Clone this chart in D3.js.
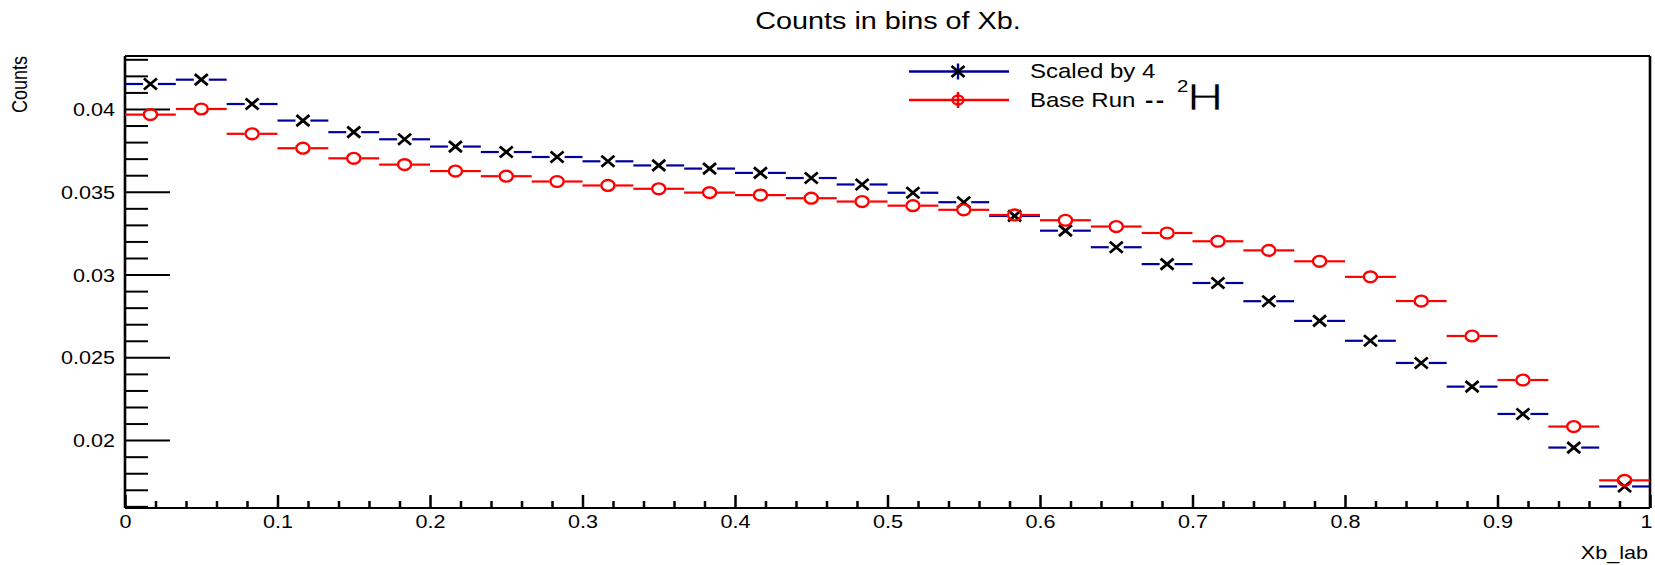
<!DOCTYPE html>
<html>
<head>
<meta charset="utf-8">
<script src="https://cdn.jsdelivr.net/npm/d3@7"></script>
<style>
html,body{margin:0;padding:0;background:#fff;}
svg{display:block;}
text{font-family:"Liberation Sans",Arial,Helvetica,sans-serif;fill:#000;}
</style>
</head>
<body>
<svg id="c" width="1655" height="565"></svg>
<script>
// ---- data ----
const nBins = 30;
const binEdges = d3.range(nBins + 1).map(i => i / nBins);
const scaledBy4 = [0.04151,0.04177,0.0403,0.0393,0.0386,0.03817,0.03773,0.0374,0.0371,0.03684,
  0.03659,0.0364,0.03614,0.03583,0.03544,0.03494,0.03437,0.03354,0.03265,0.03165,
  0.03063,0.02949,0.02839,0.0272,0.026,0.02466,0.02323,0.02158,0.01955,0.0172];
const baseRun = [0.03966,0.04,0.0385,0.03763,0.03702,0.03664,0.03625,0.03594,0.03562,0.03538,
  0.03518,0.03495,0.0348,0.03461,0.03441,0.03416,0.03391,0.0336,0.03328,0.0329,
  0.03251,0.03201,0.03146,0.0308,0.02986,0.0284,0.02629,0.02363,0.02082,0.01757];
const xMajorTicks = [0,0.1,0.2,0.3,0.4,0.5,0.6,0.7,0.8,0.9,1];
const xMajorLabels = ["0","0.1","0.2","0.3","0.4","0.5","0.6","0.7","0.8","0.9","1"];
const yMajorTicks = [0.02,0.025,0.03,0.035,0.04];
const yMajorLabels = ["0.02","0.025","0.03","0.035","0.04"];
const xDomain = [0, 1];
const yDomain = [0.0159, 0.0432];
const titleText = "Counts in bins of Xb.";
const xTitle = "Xb_lab";
const yTitle = "Counts";
const legendLabels = ["Scaled by 4", "Base Run"];

// ---- layout ----
const L = 125, R = 1650, T = 56, B = 508;
const SX = 1.2; // horizontal stretch of glyphs
const blue = "#00009c", red = "#ff0000";

const svg = d3.select("#c");
const x = d3.scaleLinear().domain(xDomain).range([L, R]);
const y = d3.scaleLinear().domain(yDomain).range([B, T]);

const yMinor = d3.range(16, 44).map(d => d / 1000).filter(v => v >= yDomain[0] && v <= yDomain[1] && !yMajorTicks.some(m => Math.abs(m - v) < 1e-9));
const xMinor = d3.range(0, 51).map(d => d / 50).filter(v => !xMajorTicks.some(m => Math.abs(m - v) < 1e-9));

const gy = svg.append("g").attr("transform", `translate(${L},0)`);
gy.call(d3.axisLeft(y).tickValues(yMinor).tickSizeInner(-23).tickSizeOuter(0).tickFormat(""));
gy.call(g => g.select(".domain").remove());
const gy2 = svg.append("g").attr("transform", `translate(${L},0)`);
gy2.call(d3.axisLeft(y).tickValues(yMajorTicks).tickSizeInner(-45).tickSizeOuter(0).tickPadding(10)
  .tickFormat((d, i) => yMajorLabels[i]));
gy2.call(g => g.select(".domain").remove());
svg.selectAll("g line").attr("stroke", "#000").attr("stroke-width", 2);
gy2.selectAll("text").attr("x", null).attr("dy", "0.36em")
  .attr("transform", `translate(-10,0) scale(${SX},1)`)
  .style("font-size", "18px").style("font-family", "Liberation Sans, Arial, sans-serif");

const gx = svg.append("g").attr("transform", `translate(0,${B})`);
gx.call(d3.axisBottom(x).tickValues(xMinor).tickSizeInner(-7).tickSizeOuter(0).tickFormat(""));
gx.call(g => g.select(".domain").remove());
const gx2 = svg.append("g").attr("transform", `translate(0,${B})`);
gx2.call(d3.axisBottom(x).tickValues(xMajorTicks).tickSizeInner(-13).tickSizeOuter(0).tickPadding(7)
  .tickFormat((d, i) => xMajorLabels[i]));
gx2.call(g => g.select(".domain").remove());
gx.selectAll("line").attr("stroke", "#000").attr("stroke-width", 2.5);
gx2.selectAll("line").attr("stroke", "#000").attr("stroke-width", 2.5);
gx2.selectAll("text").attr("y", null).attr("dy", null)
  .attr("transform", (d, i) => `translate(${i === xMajorTicks.length - 1 ? -4 : 0},20) scale(${SX},1)`)
  .style("font-size", "18px").style("font-family", "Liberation Sans, Arial, sans-serif");

// frame
const frame = svg.append("g");
frame.append("line").attr("x1", L).attr("x2", R).attr("y1", T).attr("y2", T).attr("stroke", "#000").attr("stroke-width", 2);
frame.append("line").attr("x1", L).attr("x2", R).attr("y1", B).attr("y2", B).attr("stroke", "#000").attr("stroke-width", 2);
frame.append("line").attr("x1", L).attr("x2", L).attr("y1", T).attr("y2", B).attr("stroke", "#000").attr("stroke-width", 2.6);
frame.append("line").attr("x1", R).attr("x2", R).attr("y1", T).attr("y2", B).attr("stroke", "#000").attr("stroke-width", 2.6);

// series drawing
const gap = 7.5;
function drawErr(g, vals, color) {
  vals.forEach((v, i) => {
    const xc = x((binEdges[i] + binEdges[i + 1]) / 2), yc = y(v);
    g.append("line").attr("x1", x(binEdges[i])).attr("x2", xc - gap).attr("y1", yc).attr("y2", yc)
      .attr("stroke", color).attr("stroke-width", 2.2);
    g.append("line").attr("x1", xc + gap).attr("x2", x(binEdges[i + 1])).attr("y1", yc).attr("y2", yc)
      .attr("stroke", color).attr("stroke-width", 2.2);
  });
}
function xMark(g, cx, cy, color) {
  const hw = 6.5, hh = 5.5;
  g.append("path").attr("d", `M${cx - hw},${cy - hh}L${cx + hw},${cy + hh}M${cx - hw},${cy + hh}L${cx + hw},${cy - hh}`)
    .attr("stroke", color).attr("stroke-width", 2.8).attr("fill", "none");
}
const gBlue = svg.append("g");
drawErr(gBlue, scaledBy4, blue);
scaledBy4.forEach((v, i) => xMark(gBlue, x((binEdges[i] + binEdges[i + 1]) / 2), y(v), "#000"));
const gRed = svg.append("g");
drawErr(gRed, baseRun, red);
baseRun.forEach((v, i) => {
  gRed.append("ellipse").attr("cx", x((binEdges[i] + binEdges[i + 1]) / 2)).attr("cy", y(v))
    .attr("rx", 6.6).attr("ry", 5.4).attr("fill", "none").attr("stroke", red).attr("stroke-width", 2.4);
});

// titles
svg.append("text").attr("transform", `translate(888,29) scale(${SX},1)`).attr("text-anchor", "middle")
  .style("font-size", "24px").text(titleText);
svg.append("text").attr("transform", `translate(1648,559) scale(${SX},1)`).attr("text-anchor", "end")
  .style("font-size", "18px").text(xTitle);
svg.append("text").attr("transform", `translate(27,56) scale(${SX},1) rotate(-90)`).attr("text-anchor", "end")
  .style("font-size", "18px").text(yTitle);

// legend
const lg = svg.append("g");
const ly = [71.5, 100];
const lx1 = 909, lx2 = 1009, lmx = 958;
lg.append("line").attr("x1", lx1).attr("x2", lx2).attr("y1", ly[0]).attr("y2", ly[0]).attr("stroke", blue).attr("stroke-width", 2.4);
lg.append("line").attr("x1", lmx).attr("x2", lmx).attr("y1", ly[0] - 8).attr("y2", ly[0] + 8).attr("stroke", blue).attr("stroke-width", 2.4);
xMark(lg, lmx, ly[0], "#000");
lg.append("line").attr("x1", lx1).attr("x2", lx2).attr("y1", ly[1]).attr("y2", ly[1]).attr("stroke", red).attr("stroke-width", 2.4);
lg.append("line").attr("x1", lmx).attr("x2", lmx).attr("y1", ly[1] - 8).attr("y2", ly[1] + 8).attr("stroke", red).attr("stroke-width", 2.4);
lg.append("ellipse").attr("cx", lmx).attr("cy", ly[1]).attr("rx", 5.5).attr("ry", 4.5).attr("fill", "none").attr("stroke", red).attr("stroke-width", 2.4);
lg.append("text").attr("transform", `translate(1030,${ly[0] + 6.5}) scale(${SX},1)`).style("font-size", "20px").text(legendLabels[0]);
lg.append("text").attr("transform", `translate(1030,${ly[1] + 6.5}) scale(${SX},1)`).style("font-size", "20px").text(legendLabels[1]);
lg.append("text").attr("transform", `translate(1145,${ly[1] + 6.5}) scale(${SX},1)`).style("font-size", "21px")
  .style("font-weight", "bold").style("letter-spacing", "2px").text("--");
lg.append("text").attr("transform", `translate(1177,92) scale(${SX},1)`).style("font-size", "17px").text("2");
lg.append("text").attr("transform", `translate(1187,110) scale(1.4,1)`).style("font-size", "36px")
  .style("stroke", "#fff").style("stroke-width", "0.7px").style("paint-order", "normal").text("H");
</script>
</body>
</html>
